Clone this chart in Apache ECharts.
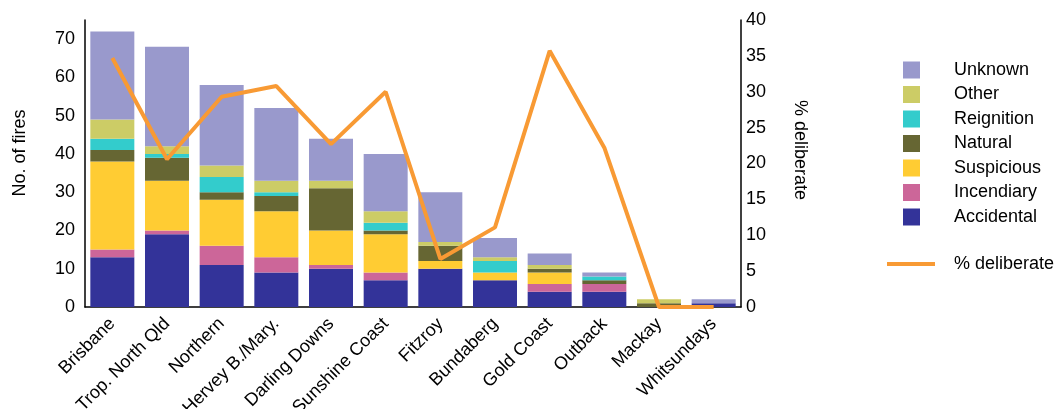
<!DOCTYPE html>
<html>
<head>
<meta charset="utf-8">
<script src="https://cdn.jsdelivr.net/npm/echarts@6/dist/echarts.min.js"></script>
<style>
html,body{margin:0;padding:0;background:#fff;}
#chart{width:1059px;height:409px;}
</style>
</head>
<body>
<div id="chart"></div>
<script>
const categories = ['Brisbane','Trop. North Qld','Northern','Hervey B./Mary.','Darling Downs','Sunshine Coast','Fitzroy','Bundaberg','Gold Coast','Outback','Mackay','Whitsundays'];
const accidental = [13,19,11,9,10,7,10,7,4,4,0,1];
const incendiary = [2,1,5,4,1,2,0,0,2,2,0,0];
const suspicious = [23,13,12,12,9,10,2,2,3,0,0,0];
const natural    = [3,6,2,4,11,1,4,0,1,1,1,0];
const reignition = [3,1,4,1,0,2,0,3,0,1,0,0];
const other      = [5,2,3,3,2,3,1,1,1,0,1,0];
const unknown    = [23,26,21,19,11,15,13,5,3,1,0,1];
const pctDeliberate = [34.7,20.6,29.3,30.8,22.7,30.0,6.7,11.1,35.7,22.2,0,0];
const leftTicks = [0,10,20,30,40,50,60,70];
const rightTicks = [0,5,10,15,20,25,30,35,40];

const FONT = 'Liberation Sans';
const FS = 18;
const chart = echarts.init(document.getElementById('chart'));

const barDefs = [
  ['Accidental', accidental, '#333399'],
  ['Incendiary', incendiary, '#CC6699'],
  ['Suspicious', suspicious, '#FFCC33'],
  ['Natural', natural, '#666633'],
  ['Reignition', reignition, '#33CCCC'],
  ['Other', other, '#CCCC66'],
  ['Unknown', unknown, '#9999CC']
];

const series = barDefs.map(d => ({
  name: d[0], type: 'bar', stack: 'fires', data: d[1], barWidth: 44,
  itemStyle: {color: d[2]}, yAxisIndex: 0, animation: false
}));
series.push({
  name: '% deliberate', type: 'line', yAxisIndex: 1, data: pctDeliberate,
  symbol: 'none', showSymbol: false, z: 10,
  lineStyle: {color: '#F89A34', width: 4}, itemStyle: {color: '#F89A34'},
  animation: false
});

chart.setOption({
  backgroundColor: '#fff',
  textStyle: {fontFamily: FONT},
  grid: {left: 85, right: 318, top: 20, bottom: 102, containLabel: false, outerBoundsMode: 'none'},
  legend: [{
    data: ['Unknown','Other','Reignition','Natural','Suspicious','Incendiary','Accidental'],
    orient: 'vertical', left: 898, top: 56, itemWidth: 17, itemHeight: 17, itemGap: 6.5,
    selectedMode: false, icon: 'rect',
    textStyle: {fontFamily: FONT, fontSize: FS, color: '#000', padding: [0,0,0,29]}
  },{
    data: [{name: '% deliberate', icon: 'rect'}], orient: 'vertical', left: 882, top: 250,
    itemWidth: 48, itemHeight: 4, selectedMode: false,
    textStyle: {fontFamily: FONT, fontSize: FS, color: '#000', padding: [0,0,0,14]}
  }],
  xAxis: {
    type: 'category', data: categories,
    axisLine: {lineStyle: {color: '#000', width: 1.5}},
    axisTick: {show: false},
    axisLabel: {rotate: 45, margin: 14, interval: 0, fontFamily: FONT, fontSize: FS, color: '#000', padding: [0,0,8,0]}
  },
  yAxis: [{
    type: 'value', min: 0, max: 75, interval: 10,
    axisLine: {show: true, lineStyle: {color: '#000', width: 1.5}},
    axisTick: {show: false}, splitLine: {show: false},
    axisLabel: {margin: 10, fontFamily: FONT, fontSize: FS, color: '#000',
      formatter: v => leftTicks.includes(v) ? String(v) : ''}
  },{
    type: 'value', min: 0, max: 40, interval: 5, position: 'right',
    axisLine: {show: true, lineStyle: {color: '#000', width: 1.5}},
    axisTick: {show: false}, splitLine: {show: false},
    axisLabel: {margin: 5, fontFamily: FONT, fontSize: FS, color: '#000',
      formatter: v => rightTicks.includes(v) ? String(v) : ''}
  }],
  graphic: [{
    type: 'text', x: 20, y: 153, rotation: Math.PI/2,
    style: {text: 'No. of fires', fontFamily: FONT, fontSize: FS, fill: '#000', textAlign: 'center', textVerticalAlign: 'middle'}
  },{
    type: 'text', x: 800, y: 150, rotation: -Math.PI/2,
    style: {text: '% deliberate', fontFamily: FONT, fontSize: FS, fill: '#000', textAlign: 'center', textVerticalAlign: 'middle'}
  }],
  series: series
});
</script>
</body>
</html>
